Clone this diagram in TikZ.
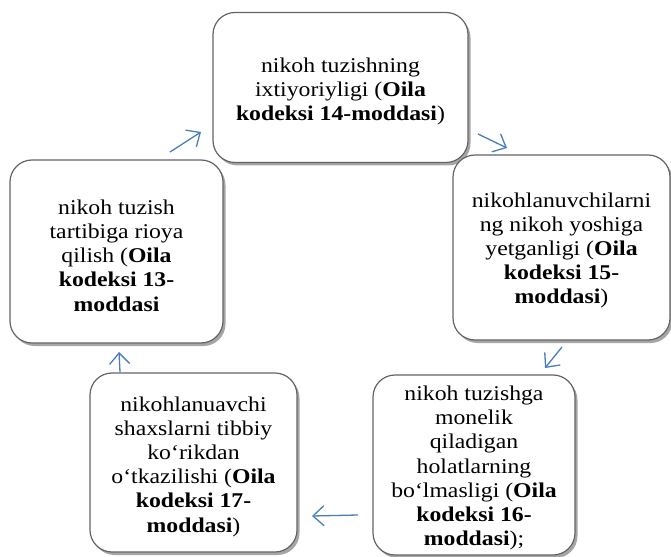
\documentclass[tikz,border=0pt]{standalone}
\usepackage{fontspec}
\setmainfont{Liberation Serif}[FakeStretch=1.13]
\usetikzlibrary{arrows.meta,shadows}
\definecolor{arrowblue}{RGB}{74,126,187}
\definecolor{boxline}{RGB}{100,100,100}
\tikzset{
  box/.style={draw=boxline, line width=1.2bp, fill=white, rounded corners=22bp,
    inner sep=0pt,
    drop shadow={shadow xshift=2.5bp, shadow yshift=-3bp, opacity=0.35, fill=black}},
  txt/.style={align=center, inner sep=0pt,
    font=\fontsize{21bp}{24.2bp}\selectfont},
  flow/.style={draw=arrowblue, line width=1.3bp,
    -{Straight Barb[length=11bp,width=20bp,line width=1.3bp]}}
}
\begin{document}
\begin{tikzpicture}[x=1bp,y=-1bp]
\useasboundingbox (0,0) rectangle (671,557);
\node[box, minimum width=255bp, minimum height=150bp] (top) at (340.5,87.5) {};
\node[txt] (toptext) at ([yshift=-4bp]top.center)
  {nikoh tuzishning\\ixtiyoriyligi (\textbf{Oila}\\\textbf{kodeksi 14-moddasi})};
\node[box, minimum width=217bp, minimum height=185bp] (right) at (561.5,247.5) {};
\node[txt] (righttext) at ([yshift=-3bp]right.center)
  {nikohlanuvchilarni\\ng nikoh yoshiga\\yetganligi (\textbf{Oila}\\\textbf{kodeksi 15-}\\\textbf{moddasi})};
\node[box, minimum width=213bp, minimum height=183bp] (left) at (116.5,251.5) {};
\node[txt] (lefttext) at ([yshift=-4bp]left.center)
  {nikoh tuzish\\tartibiga rioya\\qilish (\textbf{Oila}\\\textbf{kodeksi 13-}\\\textbf{moddasi}};
\node[box, minimum width=207bp, minimum height=179bp] (bl) at (193.5,462.5) {};
\node[txt] (bltext) at ([yshift=-4bp]bl.center)
  {nikohlanuavchi\\shaxslarni tibbiy\\ko‘rikdan\\o‘tkazilishi (\textbf{Oila}\\\textbf{kodeksi 17-}\\\textbf{moddasi})};
\node[box, minimum width=202bp, minimum height=180bp] (br) at (474,465) {};
\node[txt] (brtext) at ([yshift=-3bp]br.center)
  {nikoh tuzishga\\monelik\\qiladigan\\holatlarning\\bo‘lmasligi (\textbf{Oila}\\\textbf{kodeksi 16-}\\\textbf{moddasi});};
% arrow end points
\coordinate (a1s) at (170,152); \coordinate (a1e) at (201,132);
\coordinate (a2s) at (478,134); \coordinate (a2e) at (507,148);
\coordinate (a3s) at (562,347); \coordinate (a3e) at (545,368);
\coordinate (a4s) at (358,515); \coordinate (a4e) at (312,516);
\coordinate (a5s) at (120,372); \coordinate (a5e) at (119,352);
\draw[flow] (a1s) -- (a1e);
\draw[flow] (a2s) -- (a2e);
\draw[flow] (a3s) -- (a3e);
\draw[flow] (a4s) -- (a4e);
\draw[flow] (a5s) -- (a5e);
\end{tikzpicture}
\end{document}
